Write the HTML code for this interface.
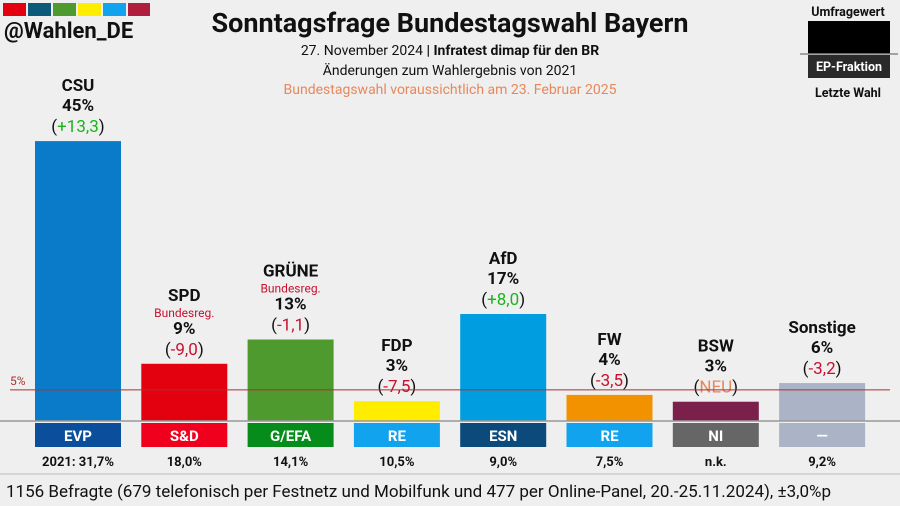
<!DOCTYPE html>
<html><head><meta charset="utf-8"><style>
html,body{margin:0;padding:0;background:#efefef;}
svg{display:block;font-family:"Roboto","Liberation Sans",sans-serif;}
</style></head><body>
<svg id="c" width="900" height="506" viewBox="0 0 900 506" xmlns="http://www.w3.org/2000/svg">
<rect width="900" height="506" fill="#efefef"/>
<g>
<rect x="3" y="3" width="23" height="13" fill="#e3000f"/><rect x="28" y="3" width="23" height="13" fill="#0b5a7a"/><rect x="53" y="3" width="23" height="13" fill="#4e9a2e"/><rect x="78" y="3" width="23" height="13" fill="#ffed00"/><rect x="103" y="3" width="23" height="13" fill="#12a3ef"/><rect x="128" y="3" width="22" height="13" fill="#b01e3d"/>
<text x="4" y="38" font-size="22" font-weight="bold" fill="#111">@Wahlen_DE</text>
</g>
<text x="450" y="32" text-anchor="middle" font-size="27" font-weight="bold" fill="#111">Sonntagsfrage Bundestagswahl Bayern</text>
<text x="450" y="55" text-anchor="middle" font-size="14" fill="#111">27. November 2024 <tspan font-weight="bold">| Infratest dimap für den BR</tspan></text>
<text x="450" y="75" text-anchor="middle" font-size="14" fill="#111">Änderungen zum Wahlergebnis von 2021</text>
<text x="450" y="94" text-anchor="middle" font-size="14" fill="#e8875a">Bundestagswahl voraussichtlich am 23. Februar 2025</text>
<g>
<text x="848" y="16" text-anchor="middle" font-size="12.5" font-weight="bold" fill="#111">Umfragewert</text>
<rect x="808" y="21" width="82" height="33" fill="#000"/>
<line x1="800" y1="54" x2="898" y2="54" stroke="#888" stroke-width="1.5"/>
<rect x="808" y="55" width="82" height="23" fill="#2a2a2a"/>
<text x="849" y="71" text-anchor="middle" font-size="12.5" font-weight="bold" fill="#fff">EP-Fraktion</text>
<text x="848" y="97" text-anchor="middle" font-size="12.5" font-weight="bold" fill="#111">Letzte Wahl</text>
</g>
<g id="bars"></g>
<line x1="0" y1="474" x2="900" y2="474" stroke="#bbb" stroke-width="1"/>
<text x="6" y="497" font-size="17" fill="#111">1156 Befragte (679 telefonisch per Festnetz und Mobilfunk und 477 per Online-Panel, 20.-25.11.2024), ±3,0%p</text>
</svg>
<script>
const parties = ["CSU","SPD","GRÜNE","FDP","AfD","FW","BSW","Sonstige"];
const values = [45,9,13,3,17,4,3,6];
const barValues = [45,9.2,13.1,3.2,17.2,4.2,3.1,6.1];
const changes = ["+13,3","-9,0","-1,1","-7,5","+8,0","-3,5","NEU","-3,2"];
const factions = ["EVP","S&D","G/EFA","RE","ESN","RE","NI","—"];
const lastElection = ["2021: 31,7%","18,0%","14,1%","10,5%","9,0%","7,5%","n.k.","9,2%"];
const govt = [false,true,true,false,false,false,false,false];
const barColors = ["#0a7bc8","#e3000f","#4e9a2e","#ffed00","#009ee0","#f39200","#7b1f4b","#aab4c6"];
const factionColors = ["#0b4f9c","#f0001c","#058c1a","#12a3ef","#0b4a7a","#12a3ef","#666666","#aab4c6"];
const threshold = 5;

const NS="http://www.w3.org/2000/svg";
const g=document.getElementById('bars');
const baseY=421, pxPer=6.22, x0=35, step=106.3, bw=86;
const yS=v=>baseY-v*pxPer;
const xS=i=>x0+i*step;
function el(t,a,txt){const e=document.createElementNS(NS,t);for(const k in a)e.setAttribute(k,a[k]);if(txt!=null)e.textContent=txt;g.appendChild(e);return e;}
parties.forEach((p,i)=>{
  const x=xS(i), cx=x+bw/2, top=yS(barValues[i]);
  const r=el('rect',{x:x,y:top,width:bw,height:baseY-top,fill:barColors[i]});
  
  
  const fr=el('rect',{x:x,y:423,width:bw,height:24,fill:factionColors[i]});
  
  
  const ft=el('text',{x:cx,y:441,'text-anchor':'middle','font-size':15,'font-weight':'bold',fill:'#fff'},factions[i]);
  
  
  const lt=el('text',{x:cx,y:466,'text-anchor':'middle','font-size':13,'font-weight':'bold',fill:'#111'},lastElection[i]);
  
  
  let y=top-9;
  const ch=el('text',{x:cx,y:y,'text-anchor':'middle','font-size':17,fill:'#111'});
  
  
  const c=changes[i];
  const col=c==='NEU'?'#e8875a':(c[0]==='+'?'#1db31d':'#c8102e');
  const t1=document.createElementNS(NS,'tspan');t1.textContent='(';ch.appendChild(t1);
  const t2=document.createElementNS(NS,'tspan');t2.setAttribute('fill',col);t2.textContent=c;ch.appendChild(t2);
  const t3=document.createElementNS(NS,'tspan');t3.textContent=')';ch.appendChild(t3);
  y-=21;
  const vt=el('text',{x:cx,y:y,'text-anchor':'middle','font-size':17,'font-weight':'bold',fill:'#111'},values[i]+'%');
  
  
  if(govt[i]){y-=17;
    const gt=el('text',{x:cx,y:y,'text-anchor':'middle','font-size':12,fill:'#c8102e'},'Bundesreg.');
    
    
    y-=16;} else y-=20;
  const nt=el('text',{x:cx,y:y,'text-anchor':'middle','font-size':17,'font-weight':'bold',fill:'#111'},p);
  
  
});
const bl=el('line',{x1:0,y1:baseY,x2:900,y2:baseY,stroke:'#999','stroke-width':1.5});


const ty=yS(threshold);
const tl=el('line',{x1:10,y1:ty,x2:890,y2:ty,stroke:'#a83232','stroke-width':1});


const tt=el('text',{x:10,y:ty-5,'font-size':12,fill:'#a83232'},threshold+'%');


</script>
</body></html>
